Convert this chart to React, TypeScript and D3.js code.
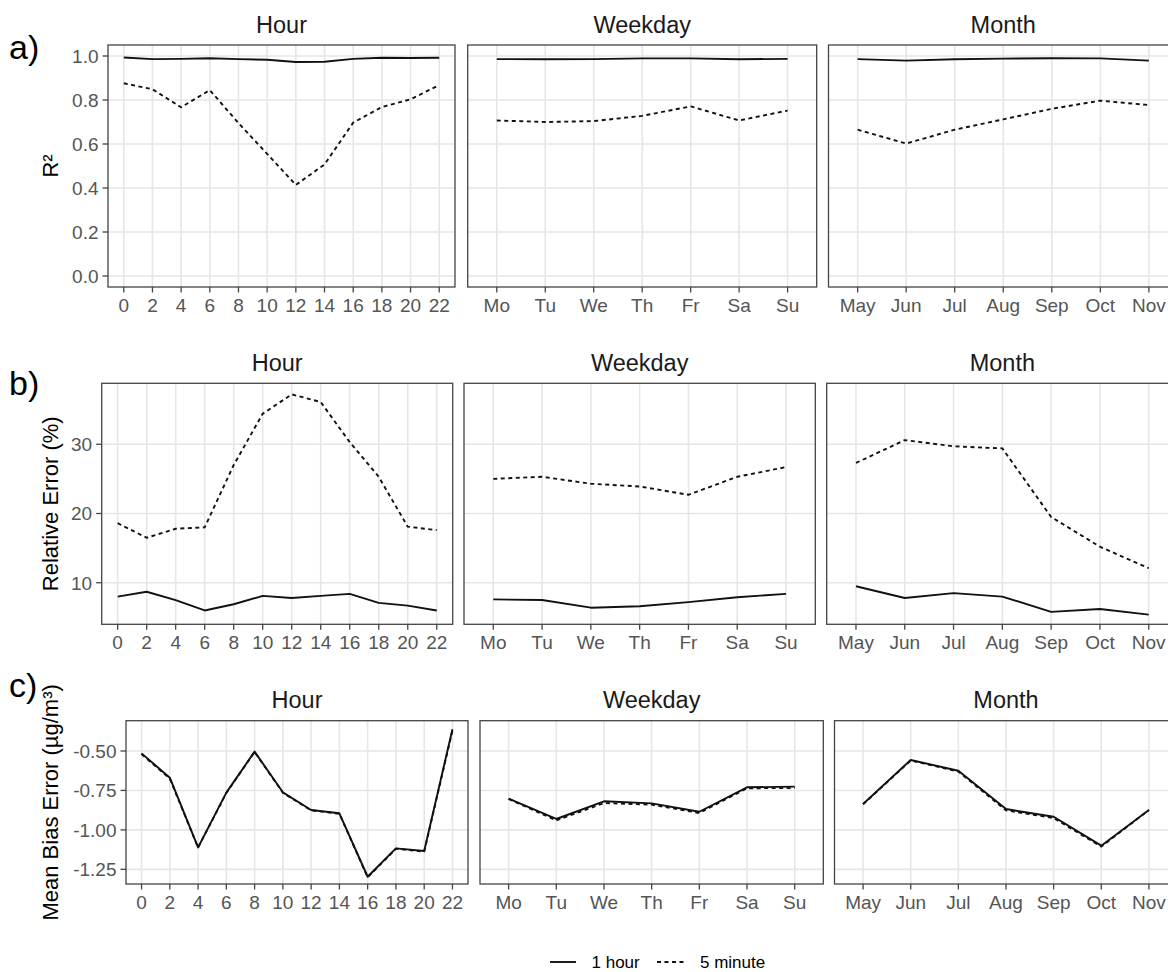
import React from "react";
import * as d3 from "d3";

// x categories
const hours = [0, 2, 4, 6, 8, 10, 12, 14, 16, 18, 20, 22];
const weekdays = ["Mo", "Tu", "We", "Th", "Fr", "Sa", "Su"];
const months = ["May", "Jun", "Jul", "Aug", "Sep", "Oct", "Nov"];

// a) R²
const r2Hour1h = [0.993, 0.986, 0.987, 0.99, 0.986, 0.983, 0.973, 0.974, 0.987, 0.992, 0.991, 0.992];
const r2Hour5m = [0.876, 0.849, 0.767, 0.845, 0.695, 0.555, 0.414, 0.507, 0.697, 0.768, 0.803, 0.868];
const r2Weekday1h = [0.986, 0.985, 0.986, 0.989, 0.989, 0.985, 0.987];
const r2Weekday5m = [0.707, 0.7, 0.704, 0.728, 0.771, 0.707, 0.752];
const r2Month1h = [0.986, 0.979, 0.985, 0.988, 0.99, 0.989, 0.979];
const r2Month5m = [0.665, 0.602, 0.665, 0.712, 0.76, 0.797, 0.777];

// b) relative error (%)
const reHour1h = [8.0, 8.7, 7.5, 6.0, 6.9, 8.1, 7.8, 8.1, 8.4, 7.1, 6.7, 6.0];
const reHour5m = [18.6, 16.5, 17.8, 18.0, 27.0, 34.4, 37.2, 36.1, 30.3, 25.3, 18.1, 17.6];
const reWeekday1h = [7.6, 7.5, 6.4, 6.6, 7.2, 7.9, 8.4];
const reWeekday5m = [25.0, 25.3, 24.3, 23.9, 22.7, 25.3, 26.7];
const reMonth1h = [9.5, 7.8, 8.5, 8.0, 5.8, 6.2, 5.4];
const reMonth5m = [27.3, 30.6, 29.7, 29.4, 19.5, 15.2, 12.1];

// c) mean bias error
const mbeHour1h = [-0.515, -0.669, -1.111, -0.764, -0.504, -0.762, -0.874, -0.895, -1.297, -1.117, -1.134, -0.362];
const mbeHour5m = [-0.52, -0.675, -1.112, -0.766, -0.506, -0.765, -0.876, -0.898, -1.3, -1.12, -1.138, -0.37];
const mbeWeekday1h = [-0.802, -0.931, -0.819, -0.832, -0.885, -0.73, -0.726];
const mbeWeekday5m = [-0.804, -0.94, -0.83, -0.84, -0.893, -0.736, -0.735];
const mbeMonth1h = [-0.836, -0.557, -0.625, -0.868, -0.917, -1.1, -0.874];
const mbeMonth5m = [-0.838, -0.56, -0.63, -0.876, -0.925, -1.106, -0.874];

const r2Ticks = [0, 0.2, 0.4, 0.6, 0.8, 1.0];
const reTicks = [10, 20, 30];
const mbeTicks = [-0.5, -0.75, -1.0, -1.25];

const facetTitles = ["Hour", "Weekday", "Month"];
const seriesNames = ["1 hour", "5 minute"];

const FONT = "'Liberation Sans', Arial, Helvetica, sans-serif";
const GRID = "#E6E6E6";
const BORDER = "#444";
const TICKTXT = "#555";
const DASH = "4,3.5";
const TICK_FS = 19;

const rows = [
  {
    tag: "a)",
    tagY: 59,
    top: 45,
    bottom: 287,
    yDomain: [-0.05, 1.05],
    yTicks: r2Ticks,
    fmt: (d) => d.toFixed(1),
    yTitle: "R²",
    panels: [
      { left: 108, right: 455 },
      { left: 467.7, right: 816.7 },
      { left: 828.5, right: 1178 },
    ],
    data: [
      [r2Hour1h, r2Hour5m],
      [r2Weekday1h, r2Weekday5m],
      [r2Month1h, r2Month5m],
    ],
  },
  {
    tag: "b)",
    tagY: 395,
    top: 383.3,
    bottom: 624.3,
    yDomain: [4.0, 38.8],
    yTicks: reTicks,
    fmt: (d) => String(d),
    yTitle: "Relative Error (%)",
    panels: [
      { left: 101.7, right: 452.7 },
      { left: 464, right: 815.3 },
      { left: 826.7, right: 1178 },
    ],
    data: [
      [reHour1h, reHour5m],
      [reWeekday1h, reWeekday5m],
      [reMonth1h, reMonth5m],
    ],
  },
  {
    tag: "c)",
    tagY: 697,
    top: 720.7,
    bottom: 884,
    yDomain: [-1.343, -0.308],
    yTicks: mbeTicks,
    fmt: (d) => d.toFixed(2),
    yTitle: "Mean Bias Error (µg/m³)",
    panels: [
      { left: 126, right: 468 },
      { left: 480, right: 823.3 },
      { left: 834.5, right: 1177.5 },
    ],
    data: [
      [mbeHour1h, mbeHour5m],
      [mbeWeekday1h, mbeWeekday5m],
      [mbeMonth1h, mbeMonth5m],
    ],
  },
];

const categories = [hours, weekdays, months];

function Panel({ row, pi }) {
  const { left, right } = row.panels[pi];
  const { top, bottom } = row;
  const cats = categories[pi];
  const y = d3.scaleLinear().domain(row.yDomain).range([bottom, top]);
  let x;
  if (pi === 0) {
    // continuous hour axis with 5% expansion
    x = d3.scaleLinear().domain([-1.1, 23.1]).range([left, right]);
  } else {
    x = d3.scalePoint().domain(cats).range([left, right]).padding(0.6);
  }
  const pos = (c) => x(c);
  const line = d3
    .line()
    .x((d) => d[0])
    .y((d) => d[1]);
  const showY = pi === 0;
  return (
    <g>
      {row.yTicks.map((t) => (
        <line key={"gy" + t} x1={left} x2={right} y1={y(t)} y2={y(t)} stroke={GRID} strokeWidth={1.6} />
      ))}
      {cats.map((c) => (
        <line key={"gx" + c} x1={pos(c)} x2={pos(c)} y1={top} y2={bottom} stroke={GRID} strokeWidth={1.6} />
      ))}
      {row.data[pi].map((vals, si) => (
        <path
          key={"s" + si}
          d={line(cats.map((c, i) => [pos(c), y(vals[i])]))}
          fill="none"
          stroke="#111"
          strokeWidth={1.9}
          strokeDasharray={si === 1 ? DASH : undefined}
          strokeLinejoin="round"
        />
      ))}
      <rect x={left} y={top} width={right - left} height={bottom - top} fill="none" stroke={BORDER} strokeWidth={1.3} />
      {cats.map((c) => (
        <g key={"xt" + c}>
          <line x1={pos(c)} x2={pos(c)} y1={bottom} y2={bottom + 5.5} stroke={BORDER} strokeWidth={1.3} />
          <text x={pos(c)} y={bottom + 25} textAnchor="middle" fontSize={TICK_FS} fill={TICKTXT}>
            {c}
          </text>
        </g>
      ))}
      {showY &&
        row.yTicks.map((t) => (
          <g key={"yt" + t}>
            <line x1={left - 5.5} x2={left} y1={y(t)} y2={y(t)} stroke={BORDER} strokeWidth={1.3} />
            <text x={left - 9.5} y={y(t) + 6.8} textAnchor="end" fontSize={TICK_FS} fill={TICKTXT}>
              {row.fmt(t)}
            </text>
          </g>
        ))}
      <text x={(left + right) / 2} y={top - 12.5} textAnchor="middle" fontSize={23.5} fill="#1A1A1A">
        {facetTitles[pi]}
      </text>
    </g>
  );
}

export default function App() {
  return (
    <svg
      width={1168}
      height={972}
      style={{ position: "absolute", left: 0, top: 0, background: "#fff" }}
      fontFamily={FONT}
    >
      <rect width={1168} height={972} fill="#fff" />
      {rows.map((row, ri) => {
        const cy = (row.top + row.bottom) / 2;
        return (
          <g key={ri}>
            {[0, 1, 2].map((pi) => (
              <Panel key={pi} row={row} pi={pi} />
            ))}
            <text transform={`translate(58,${cy}) rotate(-90)`} textAnchor="middle" fontSize={22} fill="#000">
              {row.yTitle}
            </text>
            <text x={9} y={row.tagY} fontSize={34} fill="#000">
              {row.tag}
            </text>
          </g>
        );
      })}
      <g>
        <line x1={550} x2={576} y1={962} y2={962} stroke="#111" strokeWidth={1.9} />
        <text x={591.5} y={967.5} fontSize={17} fill="#000">
          {seriesNames[0]}
        </text>
        <line x1={657} x2={686} y1={962} y2={962} stroke="#111" strokeWidth={1.9} strokeDasharray={DASH} />
        <text x={700} y={967.5} fontSize={17} fill="#000">
          {seriesNames[1]}
        </text>
      </g>
    </svg>
  );
}
